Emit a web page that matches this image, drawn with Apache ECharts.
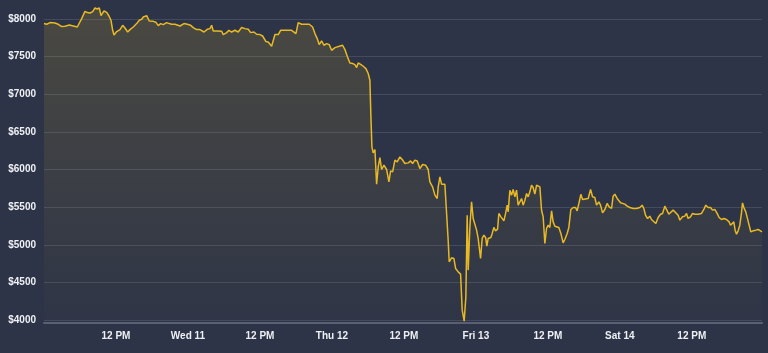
<!DOCTYPE html>
<html>
<head>
<meta charset="utf-8">
<script src="https://cdn.jsdelivr.net/npm/echarts@6/dist/echarts.min.js"></script>
<style>
html,body{margin:0;padding:0;background:#2d3447;}
#chart{width:768px;height:353px;}
</style>
</head>
<body>
<div id="chart"></div>
<script>
// hours since Tue 10 00:00
var hours = [0,0.45,1.0,1.83,2.38,2.95,3.5,4.22,4.88,5.55,5.88,6.28,6.83,7.22,7.67,8.12,8.5,8.88,9.22,9.5,10.0,10.45,10.83,11.17,11.45,11.67,12.12,12.67,13.12,13.5,13.95,14.33,14.88,15.45,15.88,16.28,16.55,16.83,17.12,17.55,18.22,18.67,19.05,19.45,19.88,20.45,20.88,21.28,21.83,22.67,23.33,23.88,24.45,24.88,25.45,26.0,26.67,27.22,27.67,27.95,28.22,28.88,29.62,29.88,30.45,30.83,31.28,31.83,32.38,32.95,33.5,34.05,34.45,35.0,35.45,36.0,36.45,37.0,37.38,37.95,38.5,39.05,39.45,40.17,41.28,42.0,42.38,42.95,43.5,44.22,44.78,45.17,45.55,45.88,46.28,46.67,47.12,47.55,47.95,48.5,49.22,49.78,50.17,50.55,51.0,51.45,51.83,52.12,52.38,52.78,53.22,53.67,54.05,54.33,54.5,54.67,54.88,55.17,55.45,55.72,56.0,56.28,56.67,57.12,57.5,57.78,58.12,58.5,58.88,59.33,59.72,60.17,60.72,61.12,61.45,61.83,62.22,62.67,63.12,63.62,64.05,64.33,64.78,65.17,65.55,65.72,66.0,66.28,66.83,67.12,67.38,67.55,67.95,68.33,68.62,69.05,69.45,69.72,70.05,70.33,70.55,70.72,71.0,71.28,71.55,71.83,72.12,72.38,72.78,73.05,73.33,73.62,73.83,74.05,74.5,74.72,75.0,75.28,75.62,75.83,76.17,76.38,76.67,76.95,77.22,77.38,77.67,77.95,78.22,78.5,78.78,79.05,79.33,79.62,79.88,80.17,80.45,80.72,81.0,81.28,81.55,81.83,82.12,82.38,82.67,82.95,83.22,83.5,83.78,84.05,84.33,84.62,84.88,85.17,85.45,85.83,86.17,86.55,86.83,87.22,87.5,87.83,88.22,88.62,88.88,89.17,89.5,89.78,90.05,90.72,91.12,91.45,91.83,92.12,92.5,92.78,93.12,93.5,93.88,94.22,94.62,94.88,95.17,95.55,95.83,96.12,96.45,96.83,97.22,97.67,98.22,98.78,99.33,99.72,100.0,100.28,100.62,101.0,101.28,101.55,102.0,102.38,102.78,103.12,103.5,103.78,104.17,104.5,104.88,105.33,105.72,106.0,106.45,106.83,107.12,107.38,107.78,108.12,108.5,109.05,109.62,110.0,110.33,110.72,111.12,111.45,111.83,112.22,112.55,112.95,113.33,113.78,114.22,114.45,114.78,115.0,115.22,115.45,115.72,116.0,116.28,116.45,116.67,117.0,117.22,117.55,117.83,118.22,118.67,119.05,119.33,119.7];

var prices = [7939,7930,7952,7947,7930,7899,7903,7920,7907,7894,7912,8005,8102,8085,8080,8098,8146,8133,8146,8045,8106,8089,8040,7983,7850,7788,7833,7859,7916,7880,7827,7859,7894,7939,7983,7996,8027,8005,8045,7973,7969,7956,7912,7939,7925,7952,7939,7930,7930,7907,7939,7930,7916,7886,7859,7859,7827,7863,7872,7916,7841,7841,7837,7793,7819,7850,7827,7850,7827,7886,7872,7863,7819,7827,7797,7793,7774,7700,7695,7637,7793,7793,7850,7850,7850,7806,7952,7930,7930,7930,7894,7806,7740,7660,7708,7651,7673,7660,7584,7620,7637,7651,7594,7505,7416,7408,7394,7354,7416,7398,7372,7341,7275,7186,6699,6300,6220,6265,5805,6035,6159,6000,6057,6000,5835,5982,5968,6124,6101,6167,6133,6080,6088,6114,6080,6124,6114,6013,6066,6057,6000,5835,5769,5659,5615,5769,5902,5805,5805,5416,5061,4773,4826,4818,4685,4640,4610,4131,3985,4308,5393,4663,5238,5570,5349,5371,5194,5084,4818,5084,5128,5097,4981,5084,5097,5150,5230,5185,5207,5416,5371,5393,5318,5416,5526,5437,5725,5659,5734,5637,5725,5526,5540,5615,5526,5592,5681,5637,5703,5791,5761,5672,5791,5791,5769,5459,5371,5017,5216,5260,5230,5450,5304,5247,5238,5230,5150,5025,5070,5150,5230,5469,5495,5495,5450,5548,5670,5601,5615,5615,5734,5637,5628,5526,5570,5526,5424,5469,5548,5504,5482,5645,5672,5615,5628,5557,5583,5540,5513,5495,5482,5482,5495,5526,5482,5393,5349,5380,5336,5349,5283,5362,5406,5416,5513,5513,5406,5416,5460,5424,5393,5327,5371,5380,5416,5349,5371,5416,5406,5406,5416,5469,5526,5495,5495,5460,5469,5416,5362,5336,5349,5336,5304,5260,5247,5304,5194,5141,5185,5260,5424,5557,5495,5437,5437,5260,5172,5185,5194,5203,5194,5172];

var tickHours = [12,24,36,48,60,72,84,96,108];
var tickLabels = ['12 PM','Wed 11','12 PM','Thu 12','12 PM','Fri 13','12 PM','Sat 14','12 PM'];

var data = hours.map(function(h,i){return [h, prices[i]];});

var chart = echarts.init(document.getElementById('chart'));
chart.setOption({
  backgroundColor: '#2d3447',
  animation: false,
  grid: {left: 44, right: 6, top: 19, bottom: 33},
  xAxis: {
    type: 'value', min: 0, max: 119.7, interval: 12,
    offset: 3,
    axisLine: {show: true, lineStyle: {color: '#5a6072', width: 2}},
    axisTick: {show: false},
    splitLine: {show: false},
    axisLabel: {
      color: '#eef0f4', fontSize: 10, fontWeight: 'bold', fontFamily: 'Liberation Sans, Arial, sans-serif', margin: 8,
      formatter: function(v){
        var idx = tickHours.indexOf(Math.round(v*100)/100);
        return idx >= 0 ? tickLabels[idx] : '';
      }
    }
  },
  yAxis: {
    type: 'value', min: 4000, max: 8000, interval: 500,
    axisLine: {show: false},
    axisTick: {show: false},
    splitLine: {lineStyle: {color: '#444b5e', width: 1}},
    axisLabel: {
      color: '#eef0f4', fontSize: 10, fontWeight: 'bold', fontFamily: 'Liberation Sans, Arial, sans-serif', margin: 8,
      formatter: function(v){ return '$' + v; }
    }
  },
  series: [{
    type: 'line',
    data: data,
    clip: false,
    showSymbol: false,
    smooth: false,
    lineStyle: {color: '#e8b923', width: 1.5},
    areaStyle: {
      color: new echarts.graphic.LinearGradient(0, 0, 0, 1, [
        {offset: 0, color: 'rgba(232,185,35,0.22)'},
        {offset: 1, color: 'rgba(232,185,35,0.01)'}
      ])
    }
  }]
});
</script>
</body>
</html>
